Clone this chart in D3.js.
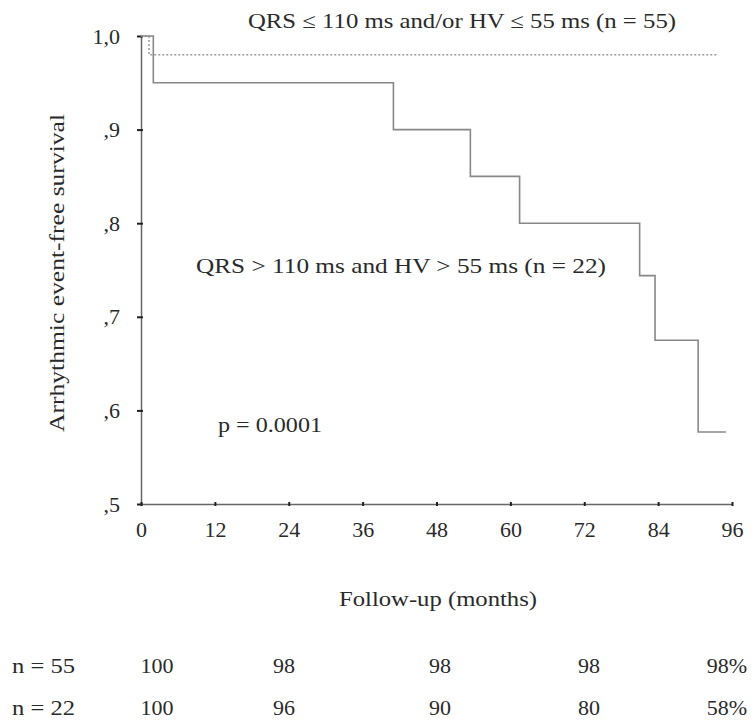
<!DOCTYPE html>
<html lang="en">
<head>
  <meta charset="UTF-8">
  <title>Arrhythmic event-free survival</title>
  <script src="https://d3js.org/d3.v7.min.js"></script>
  <style>
    body { margin: 0; background: #fff; }
    text { font-family: "Liberation Serif", "DejaVu Serif", serif; fill: #2a2a2a; }
  </style>
</head>
<body>
  <svg width="754" height="722"></svg>
  <script>
    // Kaplan-Meier steps (months, survival)
    const lowMonths = [0, 1.3, 93.5];
    const lowSurvival = [1, 0.98, 0.98];
    const highMonths = [0, 2, 41, 53.5, 61.5, 81, 83.5, 90.5, 95];
    const highSurvival = [1, 0.95, 0.90, 0.85, 0.80, 0.744, 0.675, 0.577, 0.577];

    const xTicks = [0, 12, 24, 36, 48, 60, 72, 84, 96];
    const yTicks = [0.5, 0.6, 0.7, 0.8, 0.9, 1.0];
    const yTickLabels = [",5", ",6", ",7", ",8", ",9", "1,0"];

    // numbers at risk table
    const tableRows = ["n = 55", "n = 22"];
    const tableLow = ["100", "98", "98", "98", "98%"];
    const tableHigh = ["100", "96", "90", "80", "58%"];
    const tableCols = [157, 284, 440, 589, 747];

    const svg = d3.select('svg');

    const x = d3.scaleLinear().domain([0, 96]).range([141, 732]);
    const y = d3.scaleLinear().domain([0.5, 1.0]).range([504, 36]);

    // small helper for stretched serif labels
    function label(px, py, str, size, len, anchor) {
      const t = svg.append('text')
        .attr('x', px).attr('y', py)
        .attr('font-size', size)
        .attr('text-anchor', anchor || 'start')
        .text(str);
      if (len) t.attr('textLength', len).attr('lengthAdjust', 'spacingAndGlyphs');
      return t;
    }

    // axes
    const yAxis = svg.append('g')
      .attr('transform', `translate(${x(0)},0)`)
      .call(d3.axisLeft(y).tickValues(yTicks).tickSize(4).tickSizeOuter(0)
        .tickFormat((d, i) => yTickLabels[i]));
    const xAxis = svg.append('g')
      .attr('transform', `translate(0,${y(0.5)})`)
      .call(d3.axisBottom(x).tickValues(xTicks).tickSize(3).tickSizeOuter(0));

    [yAxis, xAxis].forEach(g => {
      g.select('.domain').attr('stroke', '#666').attr('stroke-width', 1.5);
      g.selectAll('.tick line').attr('stroke', '#222').attr('stroke-width', 2);
      g.selectAll('.tick text')
        .style('font-family', '"Liberation Serif", serif')
        .attr('font-size', 22).attr('fill', '#2a2a2a');
    });
    yAxis.selectAll('.tick line').attr('x1', -4).attr('x2', 2);
    yAxis.selectAll('.tick text').attr('x', -21);
    xAxis.selectAll('.tick line').attr('y1', -2).attr('y2', 2);
    xAxis.selectAll('.tick text').attr('y', 17);

    // survival curves
    const line = d3.line()
      .x(d => x(d[0]))
      .y(d => y(d[1]))
      .curve(d3.curveStepAfter);

    svg.append('path')
      .datum(lowMonths.map((m, i) => [m, lowSurvival[i]]))
      .attr('d', line)
      .attr('fill', 'none')
      .attr('stroke', '#999')
      .attr('stroke-width', 1.5)
      .attr('stroke-dasharray', '2,2');

    svg.append('path')
      .datum(highMonths.map((m, i) => [m, highSurvival[i]]))
      .attr('d', line)
      .attr('fill', 'none')
      .attr('stroke', '#888')
      .attr('stroke-width', 1.6);

    // annotations
    label(248, 28, 'QRS ≤ 110 ms and/or HV ≤ 55 ms (n = 55)', 21, 428);
    label(196, 273, 'QRS > 110 ms and HV > 55 ms (n = 22)', 21, 410);
    label(218, 432, 'p = 0.0001', 21, 104);
    label(0, 0, 'Arrhythmic event-free survival', 20, 318, 'middle')
      .attr('transform', 'translate(64,273) rotate(-90)');
    label(339, 606, 'Follow-up (months)', 21, 198);

    // at-risk table
    const rows = [tableLow, tableHigh];
    const rowY = [673, 715];
    rows.forEach((vals, r) => {
      label(12, rowY[r], tableRows[r], 22, 63);
      svg.selectAll(null)
        .data(vals)
        .enter()
        .append('text')
        .attr('x', (d, i) => tableCols[i])
        .attr('y', rowY[r])
        .attr('text-anchor', (d, i) => i === vals.length - 1 ? 'end' : 'middle')
        .attr('font-size', 22)
        .text(d => d);
    });
  </script>
</body>
</html>
